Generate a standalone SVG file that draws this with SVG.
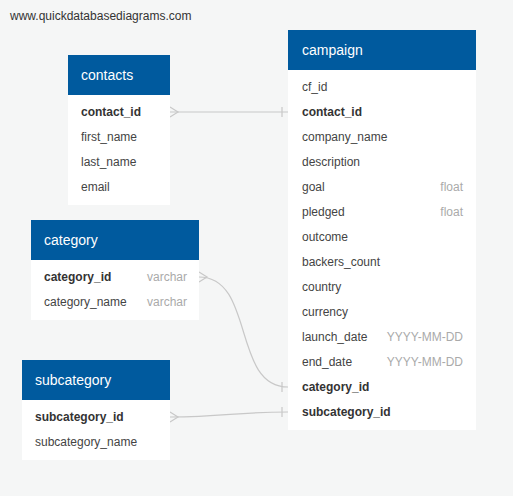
<svg xmlns="http://www.w3.org/2000/svg" width="513" height="496" viewBox="0 0 513 496">
<style>
text{font-family:"Liberation Sans",Arial,sans-serif;}
.wm{font-size:12px;fill:#333;}
.hd{fill:#005a9e;}
.bd{fill:#fff;}
.ht{font-size:14px;fill:#fff;}
.f{font-size:12px;fill:#444;}
.k{font-size:12px;fill:#333;font-weight:bold;}
.t{font-size:12px;fill:#aaa;text-anchor:end;}
.c{fill:none;stroke:#c8c8c8;stroke-width:1.2;}
</style>
<rect width="513" height="496" fill="#f5f6f6"/>
<text class="wm" x="10" y="20">www.quickdatabasediagrams.com</text>
<g id="connectors">
<path class="c" d="M170 112 H288"/>
<path class="c" d="M170 107 L178 112 L170 117"/>
<path class="c" d="M282 107 V117"/>
<path class="c" d="M199 277 C255 277 232 387 288 387"/>
<path class="c" d="M199 272 L207 277 L199 282"/>
<path class="c" d="M282 382 V392"/>
<path class="c" d="M170 417 C225 417 235 412 288 412"/>
<path class="c" d="M170 412 L178 417 L170 422"/>
<path class="c" d="M282 407 V417"/>
</g>
<g id="contacts">
<rect class="bd" x="68" y="55" width="102" height="150"/>
<rect class="hd" x="68" y="55" width="102" height="40"/>
<text class="ht" x="81" y="80">contacts</text>
<text class="k" x="81" y="116">contact_id</text>
<text class="f" x="81" y="141">first_name</text>
<text class="f" x="81" y="166">last_name</text>
<text class="f" x="81" y="191">email</text>
</g>
<g id="campaign">
<rect class="bd" x="288" y="30" width="188" height="400"/>
<rect class="hd" x="288" y="30" width="188" height="40"/>
<text class="ht" x="302" y="55">campaign</text>
<text class="f" x="302" y="91">cf_id</text>
<text class="k" x="302" y="116">contact_id</text>
<text class="f" x="302" y="141">company_name</text>
<text class="f" x="302" y="166">description</text>
<text class="f" x="302" y="191">goal</text>
<text class="t" x="463" y="191">float</text>
<text class="f" x="302" y="216">pledged</text>
<text class="t" x="463" y="216">float</text>
<text class="f" x="302" y="241">outcome</text>
<text class="f" x="302" y="266">backers_count</text>
<text class="f" x="302" y="291">country</text>
<text class="f" x="302" y="316">currency</text>
<text class="f" x="302" y="341">launch_date</text>
<text class="t" x="463" y="341">YYYY-MM-DD</text>
<text class="f" x="302" y="366">end_date</text>
<text class="t" x="463" y="366">YYYY-MM-DD</text>
<text class="k" x="302" y="391">category_id</text>
<text class="k" x="302" y="416">subcategory_id</text>
</g>
<g id="category">
<rect class="bd" x="31" y="220" width="168" height="100"/>
<rect class="hd" x="31" y="220" width="168" height="40"/>
<text class="ht" x="44" y="245">category</text>
<text class="k" x="44" y="281">category_id</text>
<text class="t" x="187" y="281">varchar</text>
<text class="f" x="44" y="306">category_name</text>
<text class="t" x="187" y="306">varchar</text>
</g>
<g id="subcategory">
<rect class="bd" x="22" y="360" width="148" height="100"/>
<rect class="hd" x="22" y="360" width="148" height="40"/>
<text class="ht" x="35" y="385">subcategory</text>
<text class="k" x="35" y="421">subcategory_id</text>
<text class="f" x="35" y="446">subcategory_name</text>
</g>
</svg>
